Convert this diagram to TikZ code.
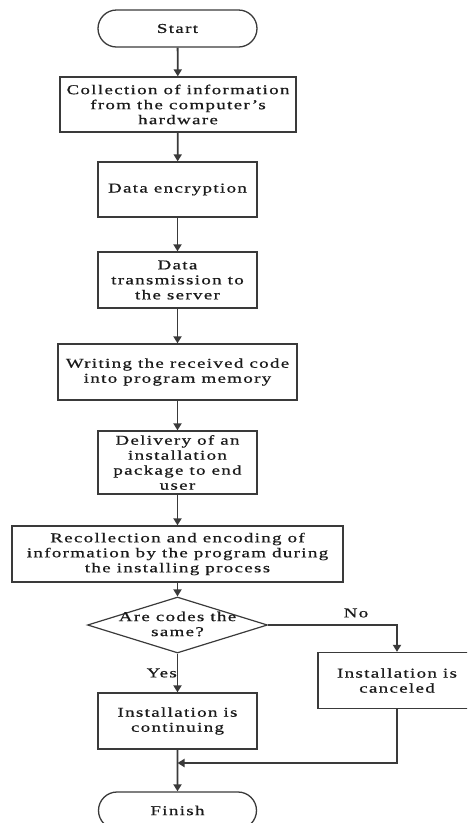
\documentclass[tikz,border=0pt]{standalone}
\usepackage{fontspec}
\setmainfont{Liberation Serif}[FakeStretch=1.4,LetterSpace=10,FakeBold=0.7]
\usetikzlibrary{arrows.meta,shapes.geometric,shapes.misc}
\definecolor{ln}{HTML}{3A3A3A}
\definecolor{tx}{HTML}{1A1A1A}
\tikzset{
  box/.style={draw=ln,line width=1.3pt,rectangle,inner sep=0pt,align=center,text=tx,font=\fontsize{13.5}{15}\selectfont},
  term/.style={box,rounded rectangle},
  dec/.style={draw=ln,line width=1.2pt,diamond,inner sep=0pt,minimum width=180pt,minimum height=56pt,aspect=3.2},
  flow/.style={draw=ln,line width=1.8pt,-{Triangle[width=8pt,length=7pt]}},
  lbl/.style={text=tx,inner sep=0pt,font=\fontsize{13.5}{15}\selectfont}
}
\begin{document}
\begin{tikzpicture}[x=1pt,y=-1pt]
\useasboundingbox (0,0) rectangle (467,823);
\clip (0,0) rectangle (467,823);
\node[term,minimum width=159pt,minimum height=37pt] (start) at (177.5,28.5) {Start};
\node[box,minimum width=236pt,minimum height=55pt] (b1) at (178,104.5) {Collection of information\\from the computer's\\hardware};
\node[box,minimum width=159pt,minimum height=55pt] (b2) at (177.5,189.5) {Data encryption};
\node[box,minimum width=159pt,minimum height=56pt] (b3) at (177.5,280) {Data\\transmission to\\the server};
\node[box,minimum width=239pt,minimum height=56pt] (b4) at (177.5,372) {Writing the received code\\into program memory};
\node[box,minimum width=159pt,minimum height=63pt] (b5) at (177.5,462.5) {Delivery of an\\installation\\package to end\\user};
\node[box,minimum width=331pt,minimum height=56pt] (b6) at (177.5,554) {Recollection and encoding of\\information by the program during\\the installing process};
\node[dec] (dia) at (177.5,625) {};
\node[lbl,align=center] (diatext) at (177.5,624) {Are codes the\\same?};
\node[box,minimum width=159pt,minimum height=56pt] (cont) at (177.5,721) {Installation is\\continuing};
\node[box,minimum width=158pt,minimum height=56pt] (cancel) at (397,680.5) {Installation is\\canceled};
\node[term,minimum width=158pt,minimum height=37pt] (finish) at (177.5,810.5) {Finish};
\node[lbl] (no) at (356,613) {No};
\node[lbl,anchor=east] (yes) at (177,673) {Yes};
\coordinate (merge) at (177.5,763);
\path[flow] (start) -- (b1);
\path[flow] (b1) -- (b2);
\path[flow] (b2) -- (b3);
\path[flow] (b3) -- (b4);
\path[flow] (b4) -- (b5);
\path[flow] (b5) -- (b6);
\path[flow] (b6) -- (dia);
\path[flow] (dia) -- (cont);
\path[flow] (dia.east) -| (cancel.north);
\path[flow] (cancel.south) |- (merge);
\path[flow] (cont) -- (finish);
\end{tikzpicture}
\end{document}
